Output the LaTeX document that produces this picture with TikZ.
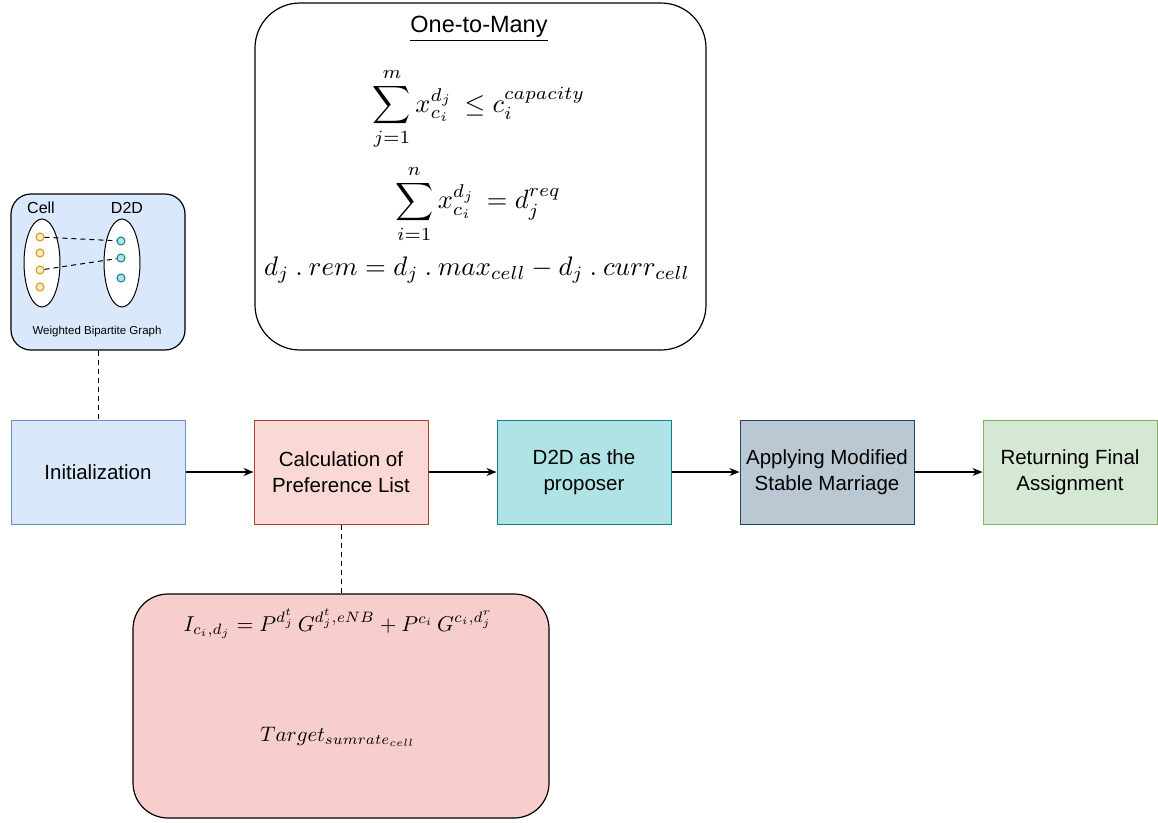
\documentclass[tikz,border=0pt]{standalone}
\usepackage{amsmath}
\usepackage{fontspec}
\setmainfont{Liberation Sans}
\usetikzlibrary{arrows.meta,shapes.geometric}
\definecolor{blueF}{HTML}{DAE8FC}\definecolor{blueD}{HTML}{6C8EBF}
\definecolor{redF}{HTML}{FAD9D5}\definecolor{redD}{HTML}{AE4132}
\definecolor{tealF}{HTML}{B0E3E6}\definecolor{tealD}{HTML}{0E8088}
\definecolor{greyF}{HTML}{BAC8D3}\definecolor{greyD}{HTML}{23445D}
\definecolor{greenF}{HTML}{D5E8D4}\definecolor{greenD}{HTML}{82B366}
\definecolor{pinkF}{HTML}{F8CECC}
\definecolor{orgF}{HTML}{FFE6CC}\definecolor{orgD}{HTML}{D79B00}
\newcommand{\fdot}{\mathbin{.}}
\begin{document}
\begin{tikzpicture}[x=1pt,y=-1pt,
  stepbox/.style={draw,line width=1pt,minimum width=174pt,minimum height=104pt,
    align=center,inner sep=2pt,font=\fontsize{20.5}{26}\selectfont},
  flow/.style={-{Stealth[length=10pt,width=8pt]},line width=1.1pt},
  link/.style={dash pattern=on 5pt off 4pt,line width=1pt},
  celldot/.style={circle,draw=orgD,fill=orgF,line width=1pt,minimum size=8pt,inner sep=0pt},
  d2ddot/.style={circle,draw=tealD,fill=tealF,line width=1pt,minimum size=8pt,inner sep=0pt},
  panel/.style={draw,line width=1.2pt},
  formula/.style={scale=#1,transform shape,inner sep=0pt}]
\useasboundingbox (0,0) rectangle (1158,822);

% process steps
\node[stepbox,fill=blueF,draw=blueD] (init) at (98,472) {Initialization};
\node[stepbox,fill=redF,draw=redD] (pref) at (341,472) {Calculation of\\Preference List};
\node[stepbox,fill=tealF,draw=tealD] (prop) at (584,472) {D2D as the\\proposer};
\node[stepbox,fill=greyF,draw=greyD] (apply) at (827,472) {Applying Modified\\Stable Marriage};
\node[stepbox,fill=greenF,draw=greenD] (ret) at (1070,472) {Returning Final\\Assignment};
\draw[flow] (init) -- (pref);
\draw[flow] (pref) -- (prop);
\draw[flow] (prop) -- (apply);
\draw[flow] (apply) -- (ret);

% bipartite graph panel
\node[panel,fill=blueF,rounded corners=20pt,minimum width=174pt,minimum height=156pt] (bip) at (98,272) {};
\node[font=\fontsize{16}{18}\selectfont] (celllab) at (41,208) {Cell};
\node[font=\fontsize{16}{18}\selectfont] (d2dlab) at (127,208) {D2D};
\node[draw,ellipse,line width=1pt,fill=white,minimum width=36pt,minimum height=88pt,inner sep=0pt] (cellset) at (42,263) {};
\node[draw,ellipse,line width=1pt,fill=white,minimum width=36pt,minimum height=88pt,inner sep=0pt] (d2dset) at (122,263) {};
\node[celldot] (c1) at (40,237) {};
\node[celldot] (c2) at (40,253) {};
\node[celldot] (c3) at (40,270) {};
\node[celldot] (c4) at (40,287) {};
\node[d2ddot] (d1) at (121,241) {};
\node[d2ddot] (d2) at (121,258) {};
\node[d2ddot] (d3) at (121,278) {};
\draw[link] (c1) -- (d1);
\draw[link] (c3) -- (d2);
\node[font=\fontsize{11.5}{13}\selectfont] (biplab) at (97,332) {Weighted Bipartite Graph};
\draw[link] (bip.south) -- (init.north);

% one-to-many constraints panel
\node[panel,fill=white,rounded corners=45pt,minimum width=451pt,minimum height=347pt] (otm) at (480.5,176.5) {};
\node[font=\fontsize{23.5}{26}\selectfont] (otmtitle) at (479,29) {\underline{One-to-Many}};
\begin{scope}[shift={(479,109)}]
  \node[formula=2.65] (eqa) at (0,0) {$\displaystyle\sum_{j=1}^{m} x_{c_i}^{d_j} \,\le c_i^{capacity}$};
\end{scope}
\begin{scope}[shift={(478,204)}]
  \node[formula=2.65] (eqb) at (0,0) {$\displaystyle\sum_{i=1}^{n} x_{c_i}^{d_j} \,= d_j^{req}$};
\end{scope}
\begin{scope}[shift={(477,270)}]
  \node[formula=2.68] (eqc) at (0,0) {$d_j\fdot rem = d_j\fdot max_{cell} - d_j\fdot curr_{cell}$};
\end{scope}

% interference panel
\node[panel,fill=pinkF,rounded corners=35pt,minimum width=416pt,minimum height=224pt] (intf) at (341,706) {};
\begin{scope}[shift={(338,624)}]
  \node[formula=2.15] (eqi) at (0,0) {$I_{c_i,d_j} = P^{d_j^t}\, G^{d_j^t,eNB} + P^{c_i}\, G^{c_i,d_j^r}$};
\end{scope}
\begin{scope}[shift={(338,737)}]
  \node[formula=2.1] (eqt) at (0,0) {$Target_{sumrate_{cell}}$};
\end{scope}
\draw[link] (pref.south) -- (intf.north);
\end{tikzpicture}
\end{document}
